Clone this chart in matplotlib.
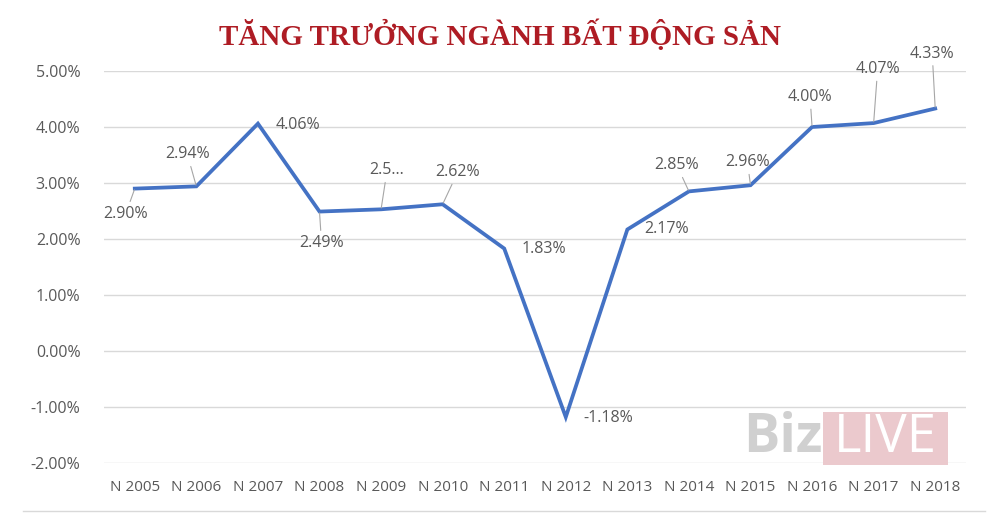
import matplotlib.pyplot as plt
from matplotlib.lines import Line2D
from matplotlib.patches import Rectangle

# Data
years = ["N 2005", "N 2006", "N 2007", "N 2008", "N 2009", "N 2010", "N 2011",
         "N 2012", "N 2013", "N 2014", "N 2015", "N 2016", "N 2017", "N 2018"]
growth = [2.90, 2.94, 4.06, 2.49, 2.53, 2.62, 1.83,
          -1.18, 2.17, 2.85, 2.96, 4.00, 4.07, 4.33]
labels = ["2.90%", "2.94%", "4.06%", "2.49%", "2.5...", "2.62%", "1.83%",
          "-1.18%", "2.17%", "2.85%", "2.96%", "4.00%", "4.07%", "4.33%"]
yticks = [-2, -1, 0, 1, 2, 3, 4, 5]

# label offsets in pixels (dx, dy) and whether a leader line is drawn
label_offsets = [(-9, -25), (-9, 32), (40, -1), (2, -31), (6, 39), (15, 32), (40, 0),
                 (42, -1), (39, 0), (-12, 26), (-3, 23), (-2, 30), (4, 54), (-3, 55)]
leaders = [True, True, False, True, True, True, False,
           False, False, True, True, True, True, True]

grey_text = "#595959"
line_blue = "#4472C4"

fig = plt.figure(figsize=(9.9, 5.31), dpi=100)
ax = fig.add_axes([104 / 990, 68 / 531, 862 / 990, 392 / 531])

x = list(range(len(years)))
ax.plot(x, growth, color=line_blue, linewidth=2.7, solid_joinstyle="miter", zorder=3)

for i, (v, lab) in enumerate(zip(growth, labels)):
    dx, dy = label_offsets[i]
    arrow = dict(arrowstyle="-", color="#A6A6A6", lw=0.8, shrinkA=1, shrinkB=1) if leaders[i] else None
    ax.annotate(lab, xy=(i, v), xytext=(dx, dy), textcoords="offset pixels",
                ha="center", va="center", fontsize=11.5, color=grey_text,
                fontfamily="Open Sans", arrowprops=arrow, zorder=4)

ax.set_xlim(-0.5, len(years) - 0.5)
ax.set_ylim(-2, 5)
ax.set_yticks(yticks)
ax.set_yticklabels([f"{t:.2f}%" for t in yticks])
ax.set_xticks(x)
ax.set_xticklabels(years)
ax.tick_params(length=0, labelsize=11, labelcolor=grey_text, pad=12)
ax.tick_params(axis="y", labelsize=11.5, pad=17)
for lbl in ax.get_xticklabels() + ax.get_yticklabels():
    lbl.set_fontfamily("Open Sans")
ax.grid(axis="y", color="#D9D9D9", linewidth=1)
ax.set_axisbelow(True)
for s in ax.spines.values():
    s.set_visible(False)

# Title
fig.text(0.505, 0.934, "TĂNG TRƯỞNG NGÀNH BẤT ĐỘNG SẢN", ha="center", va="center",
         fontsize=21, fontweight="bold", fontfamily="Liberation Serif", color="#AE1C24")

# bottom rule
fig.add_artist(Line2D([23 / 990, 985 / 990], [20 / 531, 20 / 531], color="#D9D9D9", lw=1))

# watermark
fig.add_artist(Rectangle((823 / 990, 1 - 465 / 531), 125 / 990, 53 / 531,
                         transform=fig.transFigure, facecolor="#EBC9CD", edgecolor="none"))
fig.text(822 / 990, 1 - 438 / 531, "Biz", ha="right", va="center", fontsize=39,
         fontweight="bold", fontfamily="Open Sans", color="#D0D0D0")
fig.text(885 / 990, 1 - 438 / 531, "LIVE", ha="center", va="center", fontsize=38,
         fontfamily="Open Sans", color="white")

fig.savefig("out.png", dpi=100)
